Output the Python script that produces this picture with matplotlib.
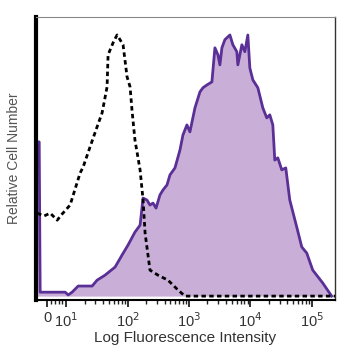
import numpy as np
import matplotlib
matplotlib.use("Agg")
import matplotlib.pyplot as plt
from matplotlib.ticker import FixedLocator

plt.rcParams['font.family'] = ['Liberation Sans', 'DejaVu Sans']

# Isotype control (dashed)
ctrl_x = [-5.3, -1.6, 1.6, 5.3, 7.9, 11.6, 16.9, 18.9, 24.5, 31.9, 38.5, 46.4, 48.2, 58.1,
          67.5, 75.5, 84.5, 98.2, 110, 118, 132, 160, 179, 193, 232, 313, 456, 662, 861, 240000]
ctrl_y = [29.7, 28.7, 29.7, 27.2, 29.4, 32.6, 44.1, 46.2, 53.4, 60.6, 65.6, 74.9, 86.4, 90.7,
          93.5, 91.8, 90.0, 78.5, 74.9, 66.7, 55.9, 45.2, 34.4, 22.6, 9.3, 7.5, 5.7, 2.2, 0.0, 0.0]

# Stained sample (filled)
stain_x = [-5.3, -4.2, -3.7, 9.5, 10.8, 12.5, 15.7, 26.5, 31.9, 43, 62.7, 81.4, 102, 132, 160,
           179, 207, 232, 260, 291, 337, 378, 439, 491, 592, 714, 799, 927, 1038, 1253, 1510,
           1690, 1962, 2366, 2648, 2965, 3192, 3443, 3847, 4645, 5192, 6026, 6262, 7278, 8140,
           9103, 9812, 10990, 13250, 15970, 18520, 20740, 23230, 25010, 27990, 32520, 37760,
           43880, 57010, 68740, 82930, 103800, 151000, 211000]
stain_y = [55.2, 55.2, 1.4, 1.4, 0.4, 1.4, 3.6, 3.6, 5.7, 7.5, 10.4, 14.7, 18.3, 22.9, 25.4,
           35.1, 34.4, 32.6, 33.3, 31.5, 36.2, 38.0, 39.8, 43.4, 45.9, 52.3, 57.7, 61.3, 58.8, 67.4, 73.1,
           74.6, 75.6, 76.7, 88.9, 86.4, 82.8, 88.9, 91.8, 93.5, 90.0, 87.5, 82.8, 90.0, 87.5,
           93.5, 81.7, 77.4, 74.6, 67.4, 63.8, 64.9, 61.3, 48.7, 49.5, 45.2, 45.9,
           34.4, 24.7, 17.6, 15.4, 9.3, 4.7, 0.0]

tick_vals = [0, 10, 100, 1000, 10000, 100000]
tick_labels = ['0', '10$^{1}$', '10$^{2}$', '10$^{3}$', '10$^{4}$', '10$^{5}$']

fig = plt.figure(figsize=(3.58, 3.58), dpi=100)
ax = fig.add_axes([0.100, 0.162, 0.836, 0.791])
ax.set_xscale('symlog', linthresh=10, linscale=0.278, base=10)

ax.fill_between(stain_x, stain_y, 0, color='#c9afd8', lw=0, zorder=1)
ax.plot(stain_x, stain_y, color='#5a2f96', lw=2.0, zorder=2)
ax.plot(ctrl_x, ctrl_y, color='black', lw=2.0, linestyle=(0, (1.6, 1.2)), zorder=3)

ax.set_xlim(-6, 2.4e5)
ax.set_ylim(-1.4, 100)

ax.set_xticks(tick_vals)
ax.set_xticklabels(tick_labels, fontsize=10.5, color='#333333')
minor = [2, 4, 6, 8]
for k in range(1, 5):
    minor += [m * 10**k for m in range(2, 10)]
ax.xaxis.set_minor_locator(FixedLocator(minor))
ax.tick_params(axis='x', which='major', length=5, width=1.3, direction='out', pad=3, colors='#222222')
ax.tick_params(axis='x', which='minor', length=3, width=1.0, direction='out', colors='#222222')
for lab in ax.get_xticklabels():
    lab.set_color('#333333')
ax.set_yticks([])

ax.spines['left'].set_linewidth(3)
ax.spines['left'].set_color('black')
ax.spines['bottom'].set_linewidth(1.5)
ax.spines['bottom'].set_color('black')
ax.spines['top'].set_linewidth(0.8)
ax.spines['top'].set_color('#888888')
ax.spines['right'].set_linewidth(1.0)
ax.spines['right'].set_color('#333333')

ax.set_xlabel('Log Fluorescence Intensity', fontsize=11, color='#333333', labelpad=1)
ax.set_ylabel('Relative Cell Number', fontsize=10, color='#555555', labelpad=11)

fig.savefig('out.png', dpi=100)
